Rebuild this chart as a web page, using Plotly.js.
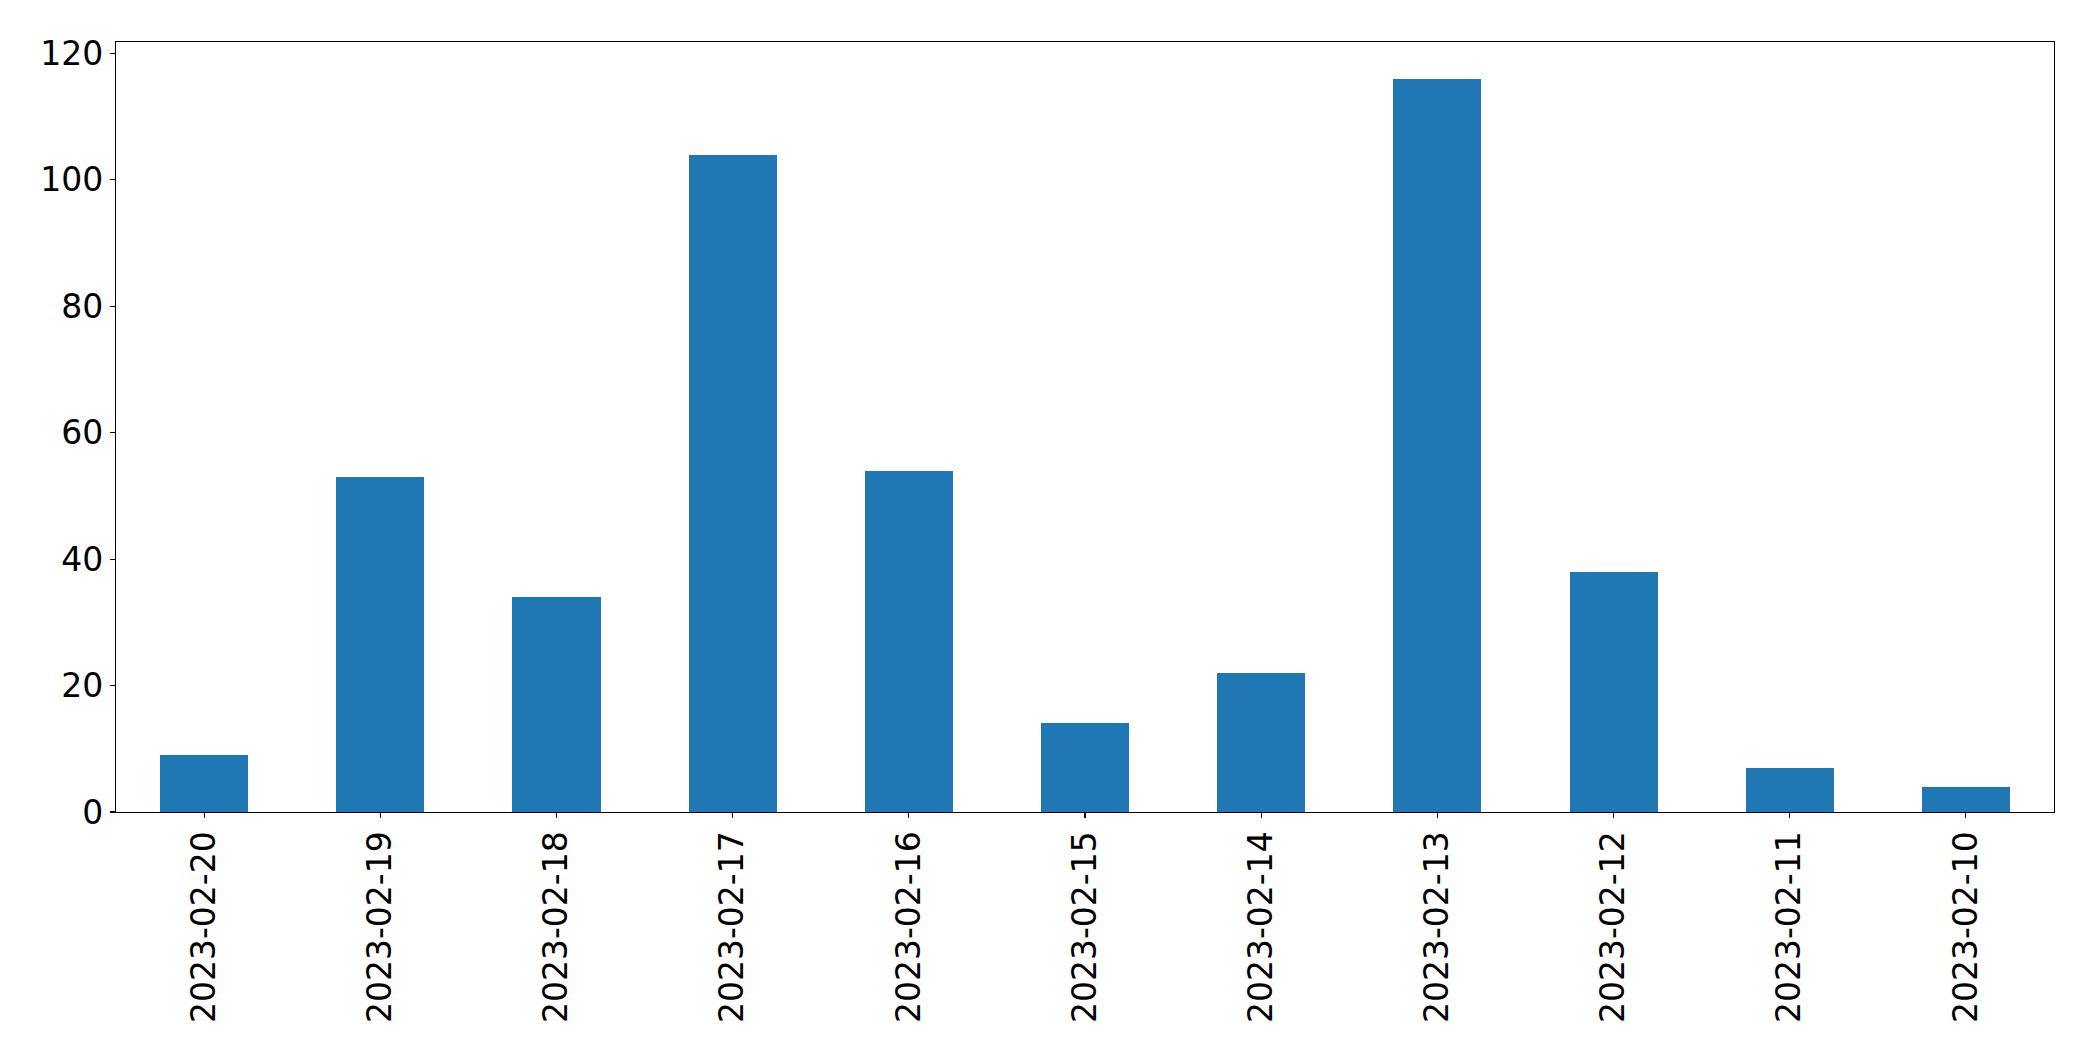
<!DOCTYPE html>
<html>
<head>
<meta charset="utf-8">
<script src="https://cdn.plot.ly/plotly-3.0.1.min.js"></script>
<style>html,body{margin:0;padding:0;background:#fff;}#chart{width:2093px;height:1064px;}</style>
</head>
<body>
<div id="chart"></div>
<script>
const dates = ["2023-02-20","2023-02-19","2023-02-18","2023-02-17","2023-02-16","2023-02-15","2023-02-14","2023-02-13","2023-02-12","2023-02-11","2023-02-10"];
const counts = [9, 53, 34, 104, 54, 14, 22, 116, 38, 7, 4];
const yTicks = [0, 20, 40, 60, 80, 100, 120];

const trace = {
  type: "bar",
  x: dates,
  y: counts,
  width: 0.5,
  marker: {color: "#1f77b4", line: {width: 0}},
  hoverinfo: "x+y"
};

const layout = {
  width: 2093,
  height: 1064,
  margin: {l: 116, r: 39, t: 42, b: 252, pad: 0},
  paper_bgcolor: "#ffffff",
  plot_bgcolor: "#ffffff",
  font: {family: "DejaVu Sans", size: 33, color: "#000000"},
  showlegend: false,
  bargap: 0,
  xaxis: {
    type: "category",
    range: [-0.5, 10.5],
    tickangle: -90,
    ticks: "outside",
    ticklen: 5,
    tickwidth: 1.1,
    tickcolor: "#000",
    showline: true,
    linecolor: "#000",
    linewidth: 1.1,
    mirror: true,
    showgrid: false,
    zeroline: false,
    tickfont: {family: "DejaVu Sans", size: 33, color: "#000"}
  },
  yaxis: {
    range: [0, 121.8],
    tickvals: yTicks,
    ticktext: yTicks.map(String),
    ticks: "outside",
    ticklen: 5,
    tickwidth: 1.1,
    tickcolor: "#000",
    showline: true,
    linecolor: "#000",
    linewidth: 1.1,
    mirror: true,
    showgrid: false,
    zeroline: false,
    tickfont: {family: "DejaVu Sans", size: 33, color: "#000"}
  }
};

Plotly.newPlot("chart", [trace], layout, {displayModeBar: false, staticPlot: true});
</script>
</body>
</html>
